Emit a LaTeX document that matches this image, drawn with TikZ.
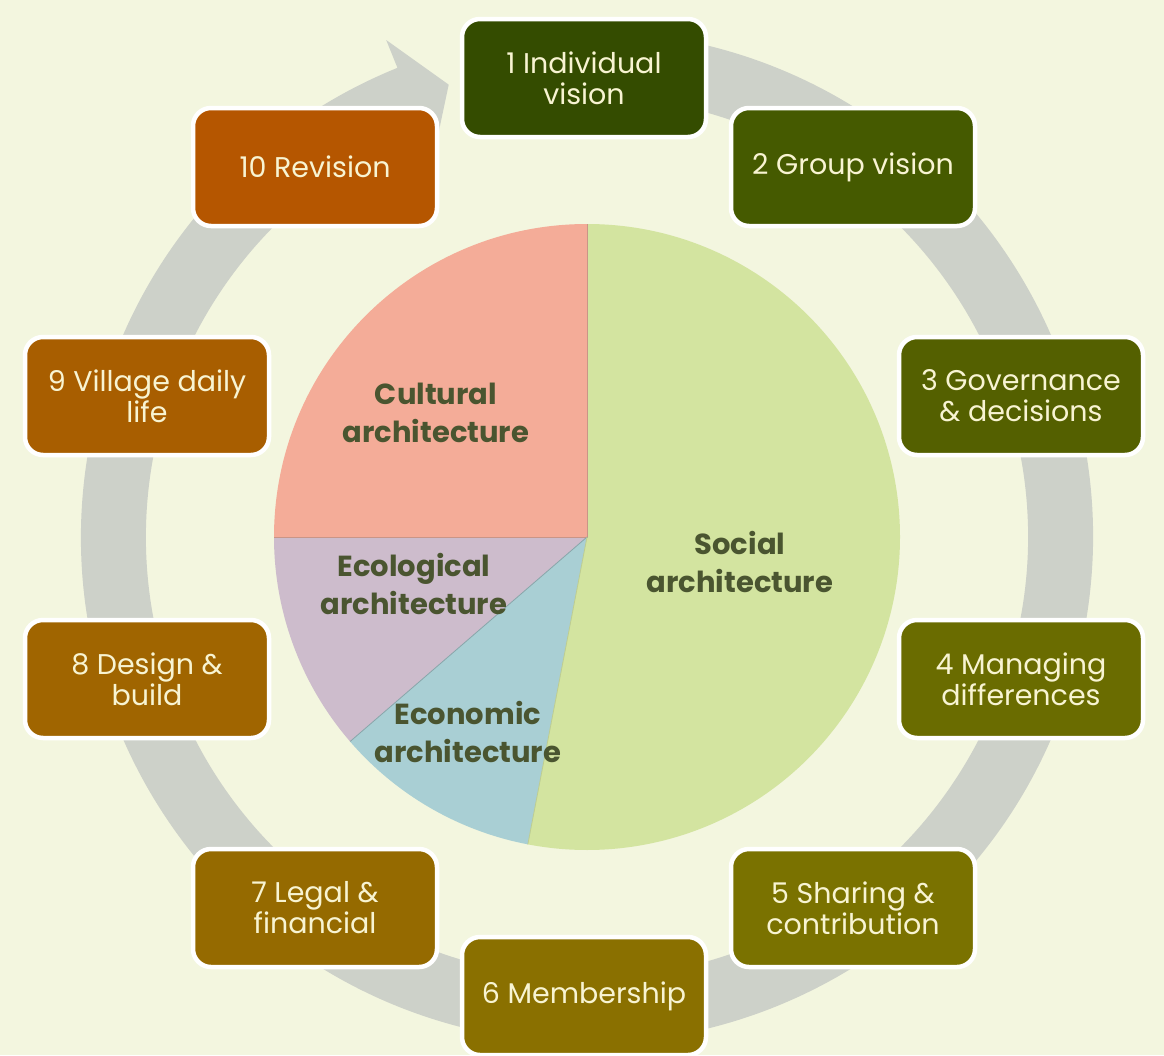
\documentclass[tikz,border=0pt]{standalone}
\usepackage{fontspec}
\setmainfont{Poppins}
\definecolor{bg}{HTML}{F3F6DF}
\definecolor{ring}{HTML}{CDD1C9}
\definecolor{txt}{HTML}{F8F4D2}
\definecolor{lbl}{HTML}{4A5530}
\definecolor{cA}{HTML}{344C00}
\definecolor{cB}{HTML}{455A00}
\definecolor{cC}{HTML}{546000}
\definecolor{cD}{HTML}{6A6C00}
\definecolor{cE}{HTML}{7A7200}
\definecolor{cF}{HTML}{8A7000}
\definecolor{cG}{HTML}{956A00}
\definecolor{cH}{HTML}{A06500}
\definecolor{cI}{HTML}{A85E00}
\definecolor{cJ}{HTML}{B55600}
\definecolor{social}{HTML}{D3E4A0}
\definecolor{cultural}{HTML}{F4AC98}
\definecolor{ecological}{HTML}{CDBCCC}
\definecolor{economic}{HTML}{A9CFD4}
\begin{document}
\begin{tikzpicture}[x=1pt,y=1pt,
  stagebox/.style={rounded corners=18pt, draw=white, line width=4.5pt,
    minimum width=244pt, minimum height=118pt, align=center, text=txt,
    font=\fontsize{28.5}{31}\selectfont, inner sep=0pt},
  slicelabel/.style={align=center, text=lbl, font=\fontsize{29}{38}\selectfont\bfseries},
  sliceline/.style={draw=#1, line width=0.8pt}]
\useasboundingbox (0,0) rectangle (1164,-1055);
\fill[bg] (0,0) rectangle (1164,-1055);

% circular arrow
\begin{scope}[shift={(587,-537)}]
\fill[ring] (80:506) arc[start angle=80, end angle=-248, radius=506]
  -- (-248:536) -- (-253:473) -- (-248:410) -- (-248:441)
  arc[start angle=-248, end angle=80, radius=441] -- cycle;

% pie
\coordinate (pc) at (0,0);
\fill[social] (0,0) -- (90:313) arc[start angle=90, end angle=-100.9, radius=313] -- cycle;
\fill[economic] (0,0) -- (-100.9:313) arc[start angle=-100.9, end angle=-139.2, radius=313] -- cycle;
\fill[ecological] (0,0) -- (-139.2:313) arc[start angle=-139.2, end angle=-180, radius=313] -- cycle;
\fill[cultural] (0,0) -- (180:313) arc[start angle=180, end angle=90, radius=313] -- cycle;
\draw[sliceline=cultural!80!black!90] (180:313) -- (0,0) -- (90:313);
\draw[sliceline=economic!80!black] (0,0) -- (-139.2:313);
\draw[sliceline=social!90!black] (0,0) -- (-100.9:313);
\end{scope}

\node[slicelabel] (cul) at (436,-413) {Cultural\\architecture};
\node[slicelabel] (soc) at (740,-562) {Social\\architecture};
\node[slicelabel] (eco) at (414,-584) {Ecological\\architecture};
\node[slicelabel] (ecn) at (468,-732) {Economic\\architecture};

% stage boxes
\node[stagebox, fill=cA] (s1) at (584,-78) {1 Individual\\vision};
\node[stagebox, fill=cB] (s2) at (853,-167) {2 Group vision};
\node[stagebox, fill=cC] (s3) at (1021,-396) {3 Governance\\\& decisions};
\node[stagebox, fill=cD] (s4) at (1021,-679) {4 Managing\\differences};
\node[stagebox, fill=cE] (s5) at (853,-908) {5 Sharing \&\\contribution};
\node[stagebox, fill=cF] (s6) at (584,-996) {6 Membership};
\node[stagebox, fill=cG] (s7) at (315,-908) {7 Legal \&\\financial};
\node[stagebox, fill=cH] (s8) at (147,-679) {8 Design \&\\build};
\node[stagebox, fill=cI] (s9) at (147,-396) {9 Village daily\\life};
\node[stagebox, fill=cJ] (s10) at (315,-167) {10 Revision};
\end{tikzpicture}
\end{document}
